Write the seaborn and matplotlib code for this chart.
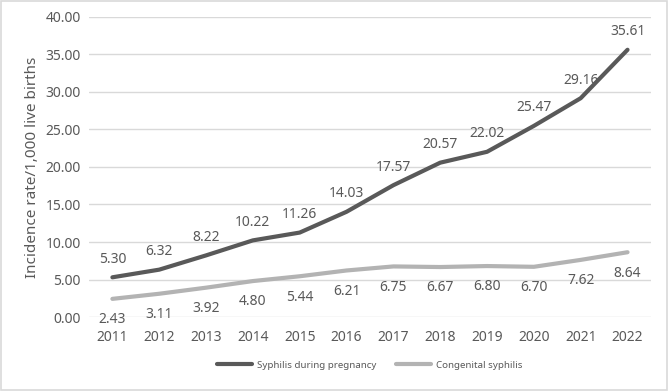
import matplotlib.pyplot as plt
import seaborn as sns
import pandas as pd
from matplotlib.patches import Rectangle

# --- Data ---
years = ['2011', '2012', '2013', '2014', '2015', '2016',
         '2017', '2018', '2019', '2020', '2021', '2022']
syphilis_pregnancy = [5.30, 6.32, 8.22, 10.22, 11.26, 14.03,
                      17.57, 20.57, 22.02, 25.47, 29.16, 35.61]
congenital_syphilis = [2.43, 3.11, 3.92, 4.80, 5.44, 6.21,
                       6.75, 6.67, 6.80, 6.70, 7.62, 8.64]
series_names = ['Syphilis during pregnancy', 'Congenital syphilis']

df = pd.DataFrame({
    'year': years * 2,
    'rate': syphilis_pregnancy + congenital_syphilis,
    'series': [series_names[0]] * len(years) + [series_names[1]] * len(years),
})

# --- Style ---
sns.set_style("white")
plt.rcParams['font.family'] = ['Noto Sans', 'DejaVu Sans']
text_color = '#595959'
palette = {series_names[0]: '#595959', series_names[1]: '#b3b3b3'}

fig = plt.figure(figsize=(6.69, 3.91), dpi=100)
ax = fig.add_axes([0.133, 0.189, 0.840, 0.768])

sns.lineplot(data=df, x='year', y='rate', hue='series', palette=palette,
             linewidth=3, ax=ax, sort=False)

ax.set_xlim(-0.5, len(years) - 0.5)
ax.set_ylim(0, 40)
ax.set_yticks(range(0, 41, 5))
ax.set_yticklabels([f'{v:.2f}' for v in range(0, 41, 5)])
ax.yaxis.grid(True, color='#d9d9d9', linewidth=1)
ax.set_axisbelow(True)
for s in ax.spines.values():
    s.set_visible(False)
ax.tick_params(axis='both', length=0, labelsize=10, colors=text_color)
ax.tick_params(axis='x', pad=9)
ax.tick_params(axis='y', pad=6)
ax.set_xlabel('')
ax.set_ylabel('Incidence rate/1,000 live births', fontsize=11, color=text_color)

# data labels
for i, v in enumerate(syphilis_pregnancy):
    ax.annotate(f'{v:.2f}', (i, v), xytext=(0, 13), textcoords='offset points',
                ha='center', va='center', fontsize=10, color=text_color)
for i, v in enumerate(congenital_syphilis):
    ax.annotate(f'{v:.2f}', (i, v), xytext=(0, -15), textcoords='offset points',
                ha='center', va='center', fontsize=10, color=text_color)

leg = ax.legend(loc='center', bbox_to_anchor=(0.5, -0.16), ncol=2,
                frameon=False, fontsize=7, handlelength=3.6,
                columnspacing=2.0, handletextpad=0.5)
for t in leg.get_texts():
    t.set_color(text_color)

# light border round the figure
fig.patches.append(Rectangle((0.002, 0.003), 0.995, 0.994, transform=fig.transFigure,
                             fill=False, edgecolor='#d9d9d9', linewidth=1.2))

fig.savefig('out.png', dpi=100)
